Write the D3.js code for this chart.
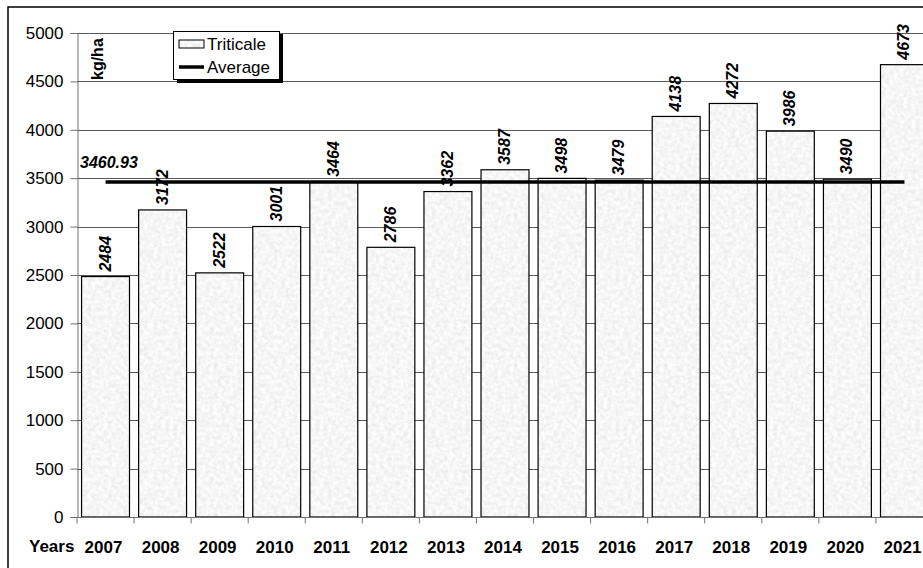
<!DOCTYPE html>
<html>
<head>
<meta charset="utf-8">
<script src="https://cdn.jsdelivr.net/npm/d3@7"></script>
<style>
html,body{margin:0;padding:0;background:#fff;}
svg{display:block;font-family:"Liberation Sans",Arial,sans-serif;}
</style>
</head>
<body>
<svg id="chart" width="923" height="568"></svg>
<script>
const years = ["2007","2008","2009","2010","2011","2012","2013","2014","2015","2016","2017","2018","2019","2020","2021"];
const triticale = [2484,3172,2522,3001,3464,2786,3362,3587,3498,3479,4138,4272,3986,3490,4673];
const average = 3460.93;
const yTicks = [0,500,1000,1500,2000,2500,3000,3500,4000,4500,5000];
const seriesNames = ["Triticale","Average"];

const svg = d3.select("#chart");
const defs = svg.append("defs");
const f = defs.append("filter").attr("id","noise").attr("x",0).attr("y",0).attr("width","100%").attr("height","100%");
f.append("feTurbulence").attr("type","fractalNoise").attr("baseFrequency",0.25).attr("numOctaves",3).attr("seed",3).attr("result","n");
f.append("feColorMatrix").attr("in","n").attr("type","matrix")
 .attr("values","0.28 0 0 0 0.78  0.28 0 0 0 0.78  0.28 0 0 0 0.78  0 0 0 0 1");
const pat = defs.append("pattern").attr("id","tex").attr("patternUnits","userSpaceOnUse").attr("width",150).attr("height",150);
pat.append("rect").attr("width",150).attr("height",150).attr("filter","url(#noise)");

const L = 77, R = 933, T = 33, B = 517;
const x = d3.scaleBand().domain(years).range([L,R]).paddingInner(0.16).paddingOuter(0.08);
const y = d3.scaleLinear().domain([0,5000]).range([B,T]);

// outer border
svg.append("rect").attr("x",8).attr("y",7).attr("width",940).attr("height",600)
  .attr("fill","none").attr("stroke","#000").attr("stroke-width",1.5);

// gridlines
svg.append("g").selectAll("line").data(yTicks.filter(d=>d>0)).join("line")
  .attr("x1",L).attr("x2",R).attr("y1",d=>Math.round(y(d))+0.5).attr("y2",d=>Math.round(y(d))+0.5)
  .attr("stroke","#5a5a5a").attr("stroke-width",1);

// y axis
const yAxis = d3.axisLeft(y).tickValues(yTicks).tickSize(7).tickPadding(7).tickFormat(d3.format("d"));
const gy = svg.append("g").attr("transform",`translate(${L+0.5},0)`).call(yAxis);
gy.select(".domain").attr("stroke","#707070");
gy.selectAll(".tick line").attr("stroke","#707070");
gy.selectAll("text").attr("font-size",17).attr("fill","#000").attr("font-family","Liberation Sans, Arial, sans-serif");

// bars
svg.append("g").selectAll("rect").data(years).join("rect")
  .attr("x",d=>x(d)).attr("y",(d,i)=>y(triticale[i]))
  .attr("width",x.bandwidth()).attr("height",(d,i)=>B-y(triticale[i]))
  .attr("fill","url(#tex)").attr("stroke","#000").attr("stroke-width",1.2);

// x axis
const gx = svg.append("g").attr("transform",`translate(0,${B+0.5})`);
gx.append("line").attr("x1",L).attr("x2",R).attr("stroke","#707070");
const bounds = years.map(d=>x(d)-x.step()*x.paddingInner()/2);
gx.selectAll("line.tk").data(bounds).join("line").attr("class","tk")
  .attr("x1",d=>d).attr("x2",d=>d).attr("y1",0).attr("y2",6).attr("stroke","#707070");
gx.selectAll("text").data(years).join("text")
  .attr("x",d=>x(d)+x.bandwidth()/2-2).attr("y",35).attr("text-anchor","middle")
  .attr("font-size",17).attr("font-weight","bold").text(d=>d);
svg.append("text").attr("x",29).attr("y",B+35).attr("font-size",17).attr("font-weight","bold").text("Years");

// average line
svg.append("line").attr("x1",x(years[0])+x.bandwidth()/2).attr("x2",x(years[years.length-1])+x.bandwidth()/2)
  .attr("y1",y(average)).attr("y2",y(average)).attr("stroke","#000").attr("stroke-width",3.5);
svg.append("text").attr("x",80).attr("y",y(average)-14).attr("font-size",16).attr("font-weight","bold")
  .attr("font-style","italic").text(average.toFixed(2));

// value labels
svg.append("g").selectAll("text").data(years).join("text")
  .attr("transform",(d,i)=>`translate(${x(d)+x.bandwidth()/2+5},${y(triticale[i])-5}) rotate(-90)`)
  .attr("font-size",16).attr("font-weight","bold").attr("font-style","italic")
  .text((d,i)=>triticale[i]);

// unit label
svg.append("text").attr("transform",`translate(103,80) rotate(-90)`).attr("font-size",16)
  .attr("font-weight","bold").text("kg/ha");

// legend
const lg = svg.append("g");
lg.append("rect").attr("x",177).attr("y",34).attr("width",106).attr("height",49).attr("fill","#000");
lg.append("rect").attr("x",173.5).attr("y",31.5).attr("width",106).attr("height",48).attr("fill","#fff").attr("stroke","#000").attr("stroke-width",1);
lg.append("rect").attr("x",179).attr("y",40).attr("width",25).attr("height",8).attr("fill","url(#tex)").attr("stroke","#000").attr("stroke-width",1);
lg.append("line").attr("x1",179).attr("x2",204).attr("y1",67).attr("y2",67).attr("stroke","#000").attr("stroke-width",3.5);
lg.selectAll("text").data(seriesNames).join("text").attr("x",207).attr("y",(d,i)=>50+i*23)
  .attr("font-size",17).text(d=>d);
</script>
</body>
</html>
